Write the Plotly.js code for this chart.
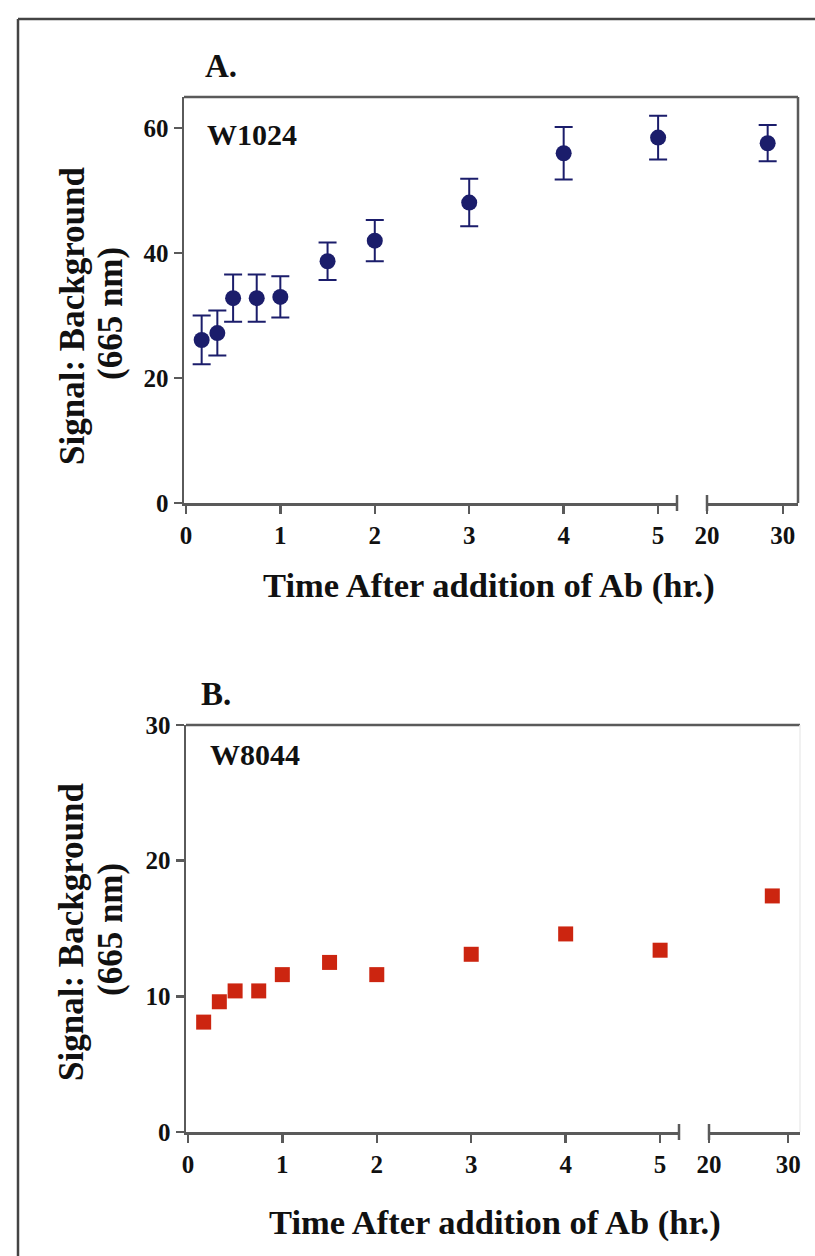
<!DOCTYPE html>
<html>
<head>
<meta charset="utf-8">
<script src="https://cdn.plot.ly/plotly-3.0.1.min.js"></script>
<style>html,body{margin:0;padding:0;background:#fff}#chart{width:815px;height:1256px}</style>
</head>
<body>
<div id="chart"></div>
<script>
// ---- data ----
const timeHours = [0.167, 0.333, 0.5, 0.75, 1, 1.5, 2, 3, 4, 5, 28];
const w1024Mean = [26.1, 27.2, 32.8, 32.8, 33.0, 38.7, 42.0, 48.1, 56.0, 58.5, 57.6];
const w1024Err  = [3.9, 3.6, 3.8, 3.8, 3.3, 3.0, 3.3, 3.8, 4.2, 3.5, 2.9];
const w8044Mean = [8.1, 9.6, 10.4, 10.4, 11.6, 12.5, 11.6, 13.1, 14.6, 13.4, 17.4];
const xTicksLeft = [0, 1, 2, 3, 4, 5];
const xTicksRight = [20, 30];
const yTicksA = [0, 20, 40, 60];
const yTicksB = [0, 10, 20, 30];
const panelLabels = ['A.', 'B.'];
const seriesNames = ['W1024', 'W8044'];
const xTitle = 'Time After addition of Ab (hr.)';
const yTitleLines = ['Signal: Background', '(665 nm)'];

// ---- geometry helpers ----
const W = 815, H = 1256;
const fx = px => px / W;
const fy = py => 1 - py / H;

const navy = '#1b1d6b';
const red = '#cc2510';
const axisCol = '#5a5a5a';
const serif = 'Liberation Serif, Times New Roman, serif';

const breakAt = 5.2;
function split(xs, ys, es) {
  const L = {x: [], y: [], e: []}, R = {x: [], y: [], e: []};
  xs.forEach((x, i) => {
    const t = x <= breakAt ? L : R;
    t.x.push(x); t.y.push(ys[i]); if (es) t.e.push(es[i]);
  });
  return [L, R];
}
const [aL, aR] = split(timeHours, w1024Mean, w1024Err);
const [bL, bR] = split(timeHours, w8044Mean, null);

function circTrace(d, xa, ya) {
  return {x: d.x, y: d.y, xaxis: xa, yaxis: ya, type: 'scatter', mode: 'markers',
    marker: {symbol: 'circle', size: 16, color: navy},
    error_y: {type: 'data', array: d.e, visible: true, color: navy, thickness: 2, width: 9},
    showlegend: false, cliponaxis: false, hoverinfo: 'x+y'};
}
function sqTrace(d, xa, ya) {
  return {x: d.x, y: d.y, xaxis: xa, yaxis: ya, type: 'scatter', mode: 'markers',
    marker: {symbol: 'square', size: 15, color: red},
    showlegend: false, cliponaxis: false, hoverinfo: 'x+y'};
}

const data = [
  circTrace(aL, 'x', 'y'), circTrace(aR, 'x2', 'y'),
  sqTrace(bL, 'x3', 'y2'), sqTrace(bR, 'x4', 'y2')
];

const tickFont = {family: serif, size: 25, color: '#111', weight: 'bold'};
function xAxis(domPx, range, ticks, anchor) {
  return {domain: [fx(domPx[0]), fx(domPx[1])], range: range, anchor: anchor,
    tickmode: 'array', tickvals: ticks, ticktext: ticks.map(String),
    ticks: 'outside', ticklen: 8, tickwidth: 2.5, tickcolor: axisCol,
    showline: true, linecolor: axisCol, linewidth: 2.5, showgrid: false, zeroline: false,
    tickfont: tickFont, fixedrange: true};
}
function yAxis(domPy, range, ticks, anchor) {
  return {domain: [fy(domPy[1]), fy(domPy[0])], range: range, anchor: anchor,
    tickmode: 'array', tickvals: ticks, ticktext: ticks.map(String),
    ticks: 'outside', ticklen: 8, tickwidth: 2.5, tickcolor: axisCol,
    showline: true, linecolor: axisCol, linewidth: 2.5, showgrid: false, zeroline: false,
    tickfont: tickFont, fixedrange: true};
}

// pixel geometry of the panels
const A = {left: 184, brkL: 677, brkR: 707, right: 798, top: 97, bottom: 503};
const B = {left: 186, brkL: 679, brkR: 709, right: 800, top: 725, bottom: 1132};

const layout = {
  width: W, height: H, autosize: false,
  margin: {l: 0, r: 0, t: 0, b: 0},
  paper_bgcolor: '#fff', plot_bgcolor: 'rgba(0,0,0,0)',
  font: {family: serif, color: '#111'},
  xaxis:  xAxis([A.left, A.brkL], [-0.02, breakAt], xTicksLeft, 'y'),
  xaxis2: xAxis([A.brkR, A.right], [20, 32], xTicksRight, 'y'),
  xaxis3: xAxis([B.left, B.brkL], [-0.02, breakAt], xTicksLeft, 'y2'),
  xaxis4: xAxis([B.brkR, B.right], [20, 31.5], xTicksRight, 'y2'),
  yaxis:  yAxis([A.top, A.bottom], [0, 65], yTicksA, 'x'),
  yaxis2: yAxis([B.top, B.bottom], [0, 30], yTicksB, 'x3'),
  shapes: [],
  annotations: []
};

const lineSh = (x0, y0, x1, y1, col, w) => ({type: 'line', xref: 'paper', yref: 'paper',
  x0: fx(x0), y0: fy(y0), x1: fx(x1), y1: fy(y1), line: {color: col, width: w}});

// outer frame (left + top)
layout.shapes.push(lineSh(18, 19, 815, 19, '#444', 2.5));
layout.shapes.push(lineSh(18, 19, 18, 1256, '#444', 2.5));
// panel A box: top + right
layout.shapes.push(lineSh(A.left, A.top, A.right, A.top, axisCol, 2.5));
layout.shapes.push(lineSh(A.right, A.top, A.right, A.bottom, axisCol, 2.5));
// panel B: top + faint right
layout.shapes.push(lineSh(B.left, B.top, B.right, B.top, axisCol, 2.5));
layout.shapes.push(lineSh(B.right, B.top, B.right, B.bottom, '#ececec', 1.5));
// axis break caps
[A, B].forEach(P => {
  layout.shapes.push(lineSh(P.brkL, P.bottom - 8, P.brkL, P.bottom + 8, axisCol, 2.5));
  layout.shapes.push(lineSh(P.brkR, P.bottom - 8, P.brkR, P.bottom + 8, axisCol, 2.5));
});

const ann = (text, px, py, size, opts) => Object.assign({text: text, xref: 'paper', yref: 'paper',
  x: fx(px), y: fy(py), showarrow: false, font: {family: serif, size: size, color: '#111', weight: 'bold'}}, opts || {});

layout.annotations.push(ann(panelLabels[0], 203, 66, 33, {xanchor: 'left', yanchor: 'middle'}));
layout.annotations.push(ann(panelLabels[1], 199, 694, 33, {xanchor: 'left', yanchor: 'middle'}));
layout.annotations.push(ann(seriesNames[0], 205, 134, 30, {xanchor: 'left', yanchor: 'middle'}));
layout.annotations.push(ann(seriesNames[1], 208, 754, 30, {xanchor: 'left', yanchor: 'middle'}));
layout.annotations.push(ann(xTitle, 489, 585, 34.5, {xanchor: 'center', yanchor: 'middle'}));
layout.annotations.push(ann(xTitle, 495, 1222, 34.5, {xanchor: 'center', yanchor: 'middle'}));
[[316, 0], [932, 0]].forEach(([cy]) => {
  layout.annotations.push(ann(yTitleLines[0], 72, cy, 35, {xanchor: 'center', yanchor: 'middle', textangle: -90}));
  layout.annotations.push(ann(yTitleLines[1], 110, cy - 2, 35, {xanchor: 'center', yanchor: 'middle', textangle: -90}));
});

Plotly.newPlot('chart', data, layout, {staticPlot: true, displayModeBar: false});
</script>
</body>
</html>
